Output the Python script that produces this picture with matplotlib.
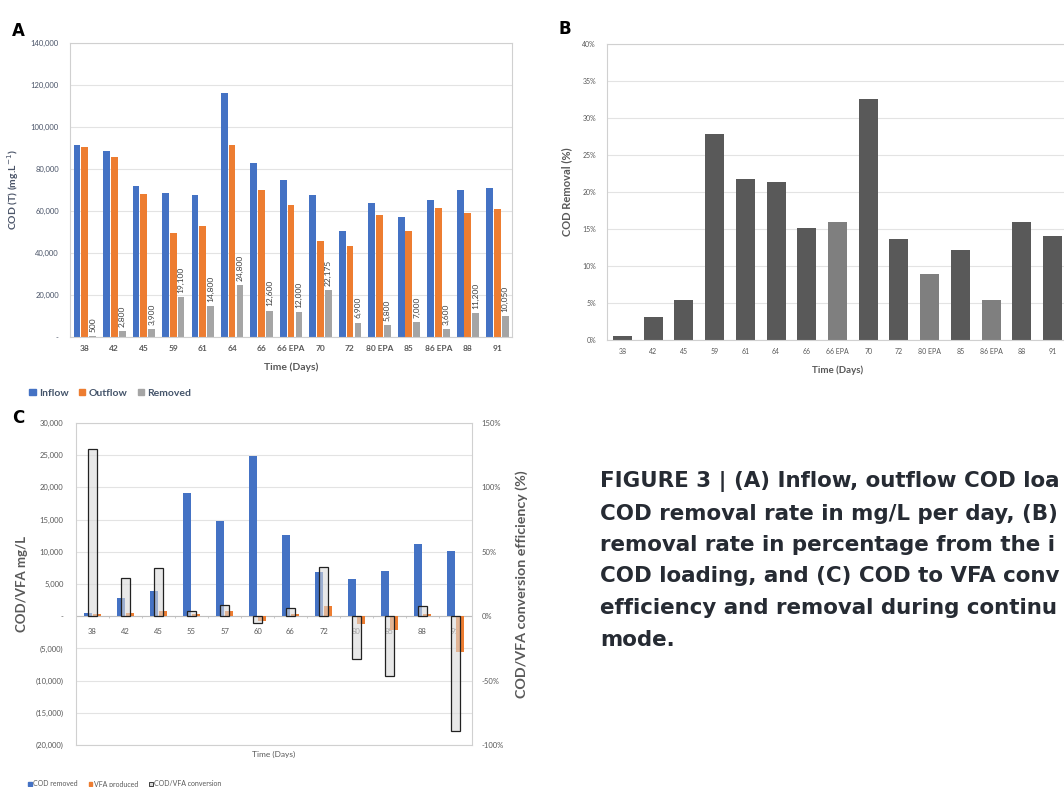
import matplotlib
matplotlib.use('Agg')
import matplotlib.pyplot as plt
import numpy as np
from matplotlib.patches import Patch

# ---------------- data ----------------
days_a = ['38', '42', '45', '59', '61', '64', '66', '66 EPA', '70', '72',
          '80 EPA', '85', '86 EPA', '88', '91']
inflow = [91300, 88500, 72000, 68400, 67800, 116100, 82700, 74800, 67600,
          50300, 64000, 57300, 65000, 70200, 71000]
outflow = [90700, 85700, 68200, 49300, 53000, 91300, 70000, 63000, 45600,
           43400, 58200, 50500, 61500, 58900, 60900]
removed = [500, 2800, 3900, 19100, 14800, 24800, 12600, 12000, 22175,
           6900, 5800, 7000, 3600, 11200, 10050]

removal_pct = [0.5, 3.1, 5.4, 27.8, 21.7, 21.3, 15.2, 15.9, 32.6, 13.6,
               8.9, 12.1, 5.4, 15.9, 14.1]

days_c = ['38', '42', '45', '55', '57', '60', '66', '72', '80', '85', '88', '91']
cod_removed = [500, 2800, 3900, 19100, 14800, 24800, 12600, 6900, 5800,
               7000, 11200, 10050]
vfa_produced = [300, 450, 880, 360, 780, -700, 360, 1560, -1250, -2080,
                400, -5600]
conversion = [130, 30, 37.6, 3.9, 8.6, -5.2, 6, 37.9, -33.5, -46.5, 8.3,
              -89.3]

# caption as visible in the (cropped) reference
caption_lines = [
    "FIGURE 3 | (A) Inflow, outflow COD loa",
    "COD removal rate in mg/L per day, (B)",
    "removal rate in percentage from the i",
    "COD loading, and (C) COD to VFA conv",
    "efficiency and removal during continu",
    "mode.",
]

# ---------------- style ----------------
BLUE = '#4472C4'
ORANGE = '#ED7D31'
GRAY = '#A5A5A5'
DARK = '#595959'
LIGHT = '#7F7F7F'
TXT = '#595959'
GRID = '#E3E3E3'
FRAME = '#D0D0D0'
plt.rcParams['font.family'] = ['Lato', 'DejaVu Sans']

W, H = 1064, 787
fig = plt.figure(figsize=(W / 100, H / 100), dpi=100)


def rect(l, t, r, b):
    return [l / W, 1 - b / H, (r - l) / W, (b - t) / H]


def acct(v):
    if v == 0:
        return '-'
    if v < 0:
        return '({:,.0f})'.format(-v)
    return '{:,.0f}'.format(v)


def style_ax(ax):
    for s in ax.spines.values():
        s.set_color(FRAME)
        s.set_linewidth(0.8)
    ax.tick_params(length=0, colors=TXT)
    ax.grid(axis='y', color=GRID, linewidth=0.8)
    ax.set_axisbelow(True)


# ---------------- panel A ----------------
axA = fig.add_axes(rect(70, 43, 512, 337))
style_ax(axA)
xa = np.arange(len(days_a))
bw = 0.23
axA.bar(xa - 0.26, inflow, bw, color=BLUE, label='Inflow')
axA.bar(xa, outflow, bw, color=ORANGE, label='Outflow')
axA.bar(xa + 0.27, removed, bw, color=GRAY, label='Removed')
for xi, v in zip(xa, removed):
    axA.annotate('{:,}'.format(v), (xi + 0.27, v), xytext=(0, 3),
                 textcoords='offset points', rotation=90, ha='center',
                 va='bottom', fontsize=6, color='#404040')
axA.set_xlim(-0.5, len(days_a) - 0.5)
axA.set_ylim(0, 140000)
axA.set_yticks(np.arange(0, 140001, 20000))
axA.set_yticklabels([acct(v) for v in np.arange(0, 140001, 20000)],
                    fontsize=5.5, color='#4A5468')
axA.set_xticks(xa)
axA.set_xticklabels(days_a, fontsize=6, fontweight='bold', color=TXT)
axA.tick_params(axis='x', pad=6)
axA.tick_params(axis='y', pad=8)
axA.set_xlabel('Time (Days)', fontsize=7.5, fontweight='bold', color=TXT,
               labelpad=7)
axA.set_ylabel('COD (T) (mg.L$^{-1}$)', fontsize=7.5, fontweight='bold',
               color='#4A5468', labelpad=7)
fig.text(12 / W, 1 - 31 / H, 'A', fontsize=12, fontweight='bold',
         family='DejaVu Sans', va='center', ha='left')
fig.legend(handles=[Patch(color=BLUE, label='Inflow'),
                    Patch(color=ORANGE, label='Outflow'),
                    Patch(color=GRAY, label='Removed')],
           loc='center left', bbox_to_anchor=(20 / W, 1 - 393 / H), ncol=3,
           frameon=False, handlelength=0.6, handleheight=0.6,
           handletextpad=0.3, columnspacing=1.0,
           prop={'size': 7.5, 'weight': 'bold'}, labelcolor='#44546A')

# ---------------- panel B ----------------
axB = fig.add_axes(rect(607, 44, 1068, 340))
style_ax(axB)
xb = np.arange(len(days_a))
colsB = [LIGHT if 'EPA' in d else DARK for d in days_a]
axB.bar(xb, removal_pct, 0.62, color=colsB)
axB.set_xlim(-0.5, len(days_a) - 0.5)
axB.set_ylim(0, 40)
axB.set_yticks(np.arange(0, 41, 5))
axB.set_yticklabels(['{}%'.format(v) for v in range(0, 41, 5)],
                    fontsize=5, color=TXT)
axB.set_xticks(xb)
axB.set_xticklabels(days_a, fontsize=5, color=TXT)
axB.tick_params(axis='x', pad=6)
axB.tick_params(axis='y', pad=8)
axB.set_xlabel('Time (Days)', fontsize=7, fontweight='bold', color=TXT,
               labelpad=7)
axB.set_ylabel('COD Removal (%)', fontsize=8, fontweight='bold', color=TXT,
               labelpad=7)
fig.text(558 / W, 1 - 29 / H, 'B', fontsize=12, fontweight='bold',
         family='DejaVu Sans', va='center', ha='left')

# ---------------- panel C ----------------
axC = fig.add_axes(rect(76, 423, 472, 745))
style_ax(axC)
xc = np.arange(len(days_c))
axC.bar(xc - 0.14, cod_removed, 0.24, color=BLUE, zorder=3)
axC.bar(xc + 0.14, vfa_produced, 0.24, color=ORANGE, zorder=3)
axC.axhline(0, color='#BFBFBF', linewidth=0.8, zorder=2)
axC.vlines(xc[:-1] + 0.5, -350, 0, color='#BFBFBF', linewidth=0.6, zorder=2)
for xi, d in zip(xc, days_c):
    axC.annotate(d, (xi, 0), xytext=(0, -11), textcoords='offset points',
                 ha='center', va='center', fontsize=5.5, color=TXT, zorder=1)
axC.set_xlim(-0.5, len(days_c) - 0.5)
axC.set_ylim(-20000, 30000)
ctk = np.arange(-20000, 30001, 5000)
axC.set_yticks(ctk)
axC.set_yticklabels([acct(v) for v in ctk], fontsize=5.5, color=TXT)
axC.set_xticks([])
axC.tick_params(axis='y', pad=9)
axC.set_xlabel('Time (Days)', fontsize=6, color=TXT, labelpad=4)
axC.set_ylabel('COD/VFA mg/L', fontsize=9.5, fontweight='bold', color=TXT,
               labelpad=5)

axC2 = axC.twinx()
axC2.bar(xc, conversion, 0.26, facecolor=(0.85, 0.85, 0.85, 0.6),
         edgecolor='#222222', linewidth=0.9, zorder=3)
axC2.set_ylim(-100, 150)
axC2.set_yticks(np.arange(-100, 151, 50))
axC2.set_yticklabels(['{}%'.format(v) for v in range(-100, 151, 50)],
                     fontsize=5.5, color=TXT)
for s in axC2.spines.values():
    s.set_visible(False)
axC2.tick_params(length=0, pad=7)
axC2.set_ylabel('COD/VFA conversion efficiency (%)', fontsize=10.3,
                fontweight='bold', color=TXT, labelpad=8)
fig.text(12 / W, 1 - 418 / H, 'C', fontsize=12, fontweight='bold',
         family='DejaVu Sans', va='center', ha='left')
fig.legend(handles=[Patch(color=BLUE, label='COD removed'),
                    Patch(color=ORANGE, label='VFA produced'),
                    Patch(facecolor='#D9D9D9', edgecolor='#222222',
                          linewidth=0.6, label='COD/VFA conversion')],
           loc='center left', bbox_to_anchor=(22 / W, 1 - 784 / H), ncol=3,
           frameon=False, handlelength=0.5, handleheight=0.5,
           handletextpad=0.2, columnspacing=1.6,
           prop={'size': 5}, labelcolor=TXT)

# ---------------- caption ----------------
cap_texts = []
for i, line in enumerate(caption_lines):
    t = fig.text(600 / W, 1 - (482 + 31.5 * i) / H, line, fontsize=15,
                 fontweight='bold', family='DejaVu Sans', color='#262B33',
                 va='center', ha='left')
    cap_texts.append(t)
# fit the first line to end at the right edge as in the reference
renderer = fig.canvas.get_renderer()
w0 = cap_texts[0].get_window_extent(renderer).width
scale = (1060 - 600) / w0
for t in cap_texts:
    t.set_fontsize(15 * scale)

fig.savefig('out.png', dpi=100)
